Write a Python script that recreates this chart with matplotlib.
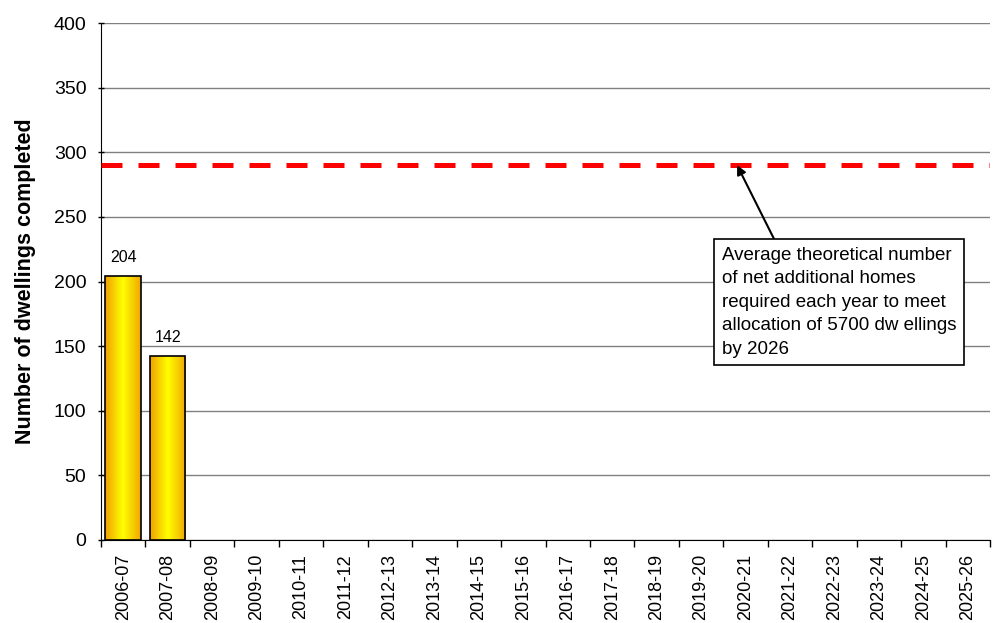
import numpy as np
import matplotlib.pyplot as plt
from matplotlib.colors import LinearSegmentedColormap

years = ['2006-07', '2007-08', '2008-09', '2009-10', '2010-11', '2011-12', '2012-13',
         '2013-14', '2014-15', '2015-16', '2016-17', '2017-18', '2018-19', '2019-20',
         '2020-21', '2021-22', '2022-23', '2023-24', '2024-25', '2025-26']
completed = [204, 142]
target = 290

plt.rcParams['font.family'] = ['Liberation Sans', 'DejaVu Sans']

fig = plt.figure(figsize=(9.96, 6.23), dpi=100)
ax = fig.add_axes([101 / 996, 1 - 540 / 623, 889 / 996, 517 / 623])

x = np.arange(len(years))
ax.set_xlim(-0.5, len(years) - 0.5)
ax.set_ylim(0, 400)

# bars with a horizontal orange-yellow-orange gradient
cmap = LinearSegmentedColormap.from_list('bar', ['#f0a000', '#ffff00', '#f0a800'])
grad = np.linspace(0, 1, 100).reshape(1, -1)
bars = ax.bar(x[:len(completed)], completed, width=0.8, color='none',
              edgecolor='black', linewidth=1.2, zorder=3)
for b in bars:
    x0, w, h = b.get_x(), b.get_width(), b.get_height()
    im = ax.imshow(grad, cmap=cmap, aspect='auto', extent=[x0, x0 + w, 0, h], zorder=2)
    im.set_clip_path(b)
    ax.text(x0 + w / 2, h + 9, str(h), ha='center', va='bottom', fontsize=11.5)

ax.axhline(target, color='#ff0000', lw=3.6, dashes=(4.2, 3.2), zorder=4)

ax.set_yticks(range(0, 401, 50))
ax.yaxis.grid(True, color='#808080', lw=1)
ax.set_axisbelow(True)
ax.set_xticks(np.arange(len(years) + 1) - 0.5, minor=False)
ax.set_xticklabels([])
ax.set_xticks(x, minor=True)
ax.set_xticklabels(years, minor=True, rotation=90, fontsize=13)
ax.tick_params(axis='x', which='minor', length=0, pad=10)
ax.tick_params(axis='x', which='major', length=5, direction='out', width=1)
ax.tick_params(axis='y', length=5, labelsize=14, width=1, direction='inout', pad=8)

for s in ['top', 'right']:
    ax.spines[s].set_visible(False)
ax.spines['left'].set_color('black')
ax.spines['bottom'].set_color('black')

ax.set_ylabel('Number of dwellings completed', fontsize=15.5, fontweight='bold', labelpad=13)

ax.annotate('Average theoretical number\nof net additional homes\nrequired each year to meet\nallocation of 5700 dw ellings\nby 2026',
            xy=(13.81, target), xytext=(16.1, 184), fontsize=13.5, ha='center', va='center',
            multialignment='left', linespacing=1.5,
            bbox=dict(boxstyle='square,pad=0.4', fc='white', ec='black', lw=1.2),
            arrowprops=dict(arrowstyle='-|>', color='black', lw=1.5, shrinkA=0, shrinkB=0,
                            relpos=(0.24, 1.0)),
            zorder=5)

fig.savefig('out.png', dpi=100)
